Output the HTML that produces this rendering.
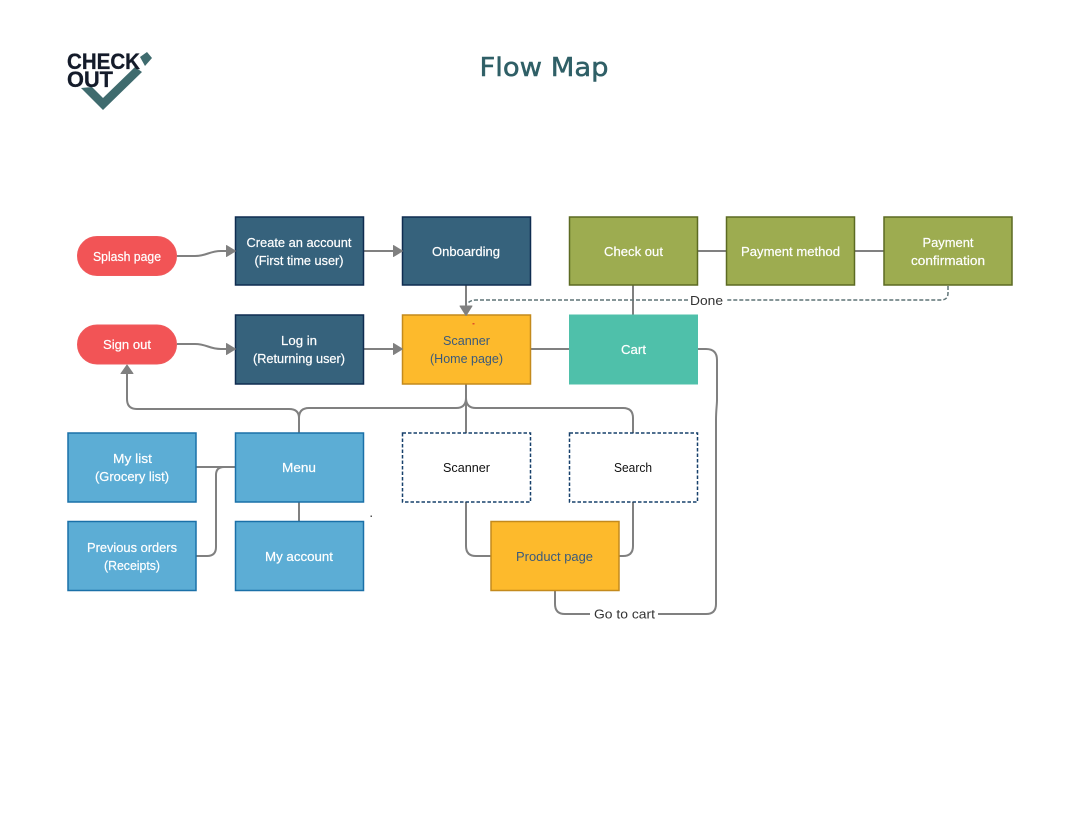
<!DOCTYPE html>
<html><head><meta charset="utf-8"><style>
html,body{margin:0;padding:0;background:#fff}
svg{display:block}
text{font-family:"Liberation Sans",sans-serif;font-size:13px;text-anchor:middle}
.w text{fill:#fff;stroke:#fff;stroke-width:.2px}
.d text{fill:#3a5a7c}.k text{fill:#111}.l text{fill:#333}
.c{fill:none;stroke:#808080;stroke-width:2}
.a{fill:#808080;stroke:#808080;stroke-width:1;stroke-linejoin:round}
</style></head><body>
<svg width="1080" height="835" viewBox="0 0 1080 835" xmlns="http://www.w3.org/2000/svg">
<rect width="1080" height="835" fill="#fff"/>
<!-- logo -->
<polygon points="81,88 92,87 103,98 135,67 142,72 103,110" fill="#3f6b6e"/>
<polygon points="140,57 147,52 152,58 145,66" fill="#3f6b6e"/>
<text x="67" y="69" style="font-family:'Liberation Sans';font-weight:700;font-size:22px;text-anchor:start;fill:#141b2a;stroke:#141b2a;stroke-width:.3" textLength="73" lengthAdjust="spacingAndGlyphs">CHECK</text>
<text x="67" y="87" style="font-family:'Liberation Sans';font-weight:700;font-size:22px;text-anchor:start;fill:#141b2a;stroke:#141b2a;stroke-width:.3" textLength="46" lengthAdjust="spacingAndGlyphs">OUT</text>
<text x="544" y="76" style="font-family:'DejaVu Sans';font-size:26px;fill:#2f5f66;stroke:#2f5f66;stroke-width:.5" textLength="129" lengthAdjust="spacingAndGlyphs">Flow Map</text>
<!-- connectors -->
<path class="c" d="M177 256H195C207 256 209 251 221 251H226"/>
<path class="c" d="M177 344H195C207 344 209 349 221 349H226"/>
<path class="c" d="M363 251H393"/>
<path class="c" d="M363 349H393"/>
<path class="c" d="M466 285V306"/>
<path class="c" d="M697 251H726M855 251H884"/>
<path class="c" d="M633 285V315"/>
<path class="c" d="M530 349H569"/>
<path d="M948 286V293Q948 300 941 300H727M688 300H476Q470 300 467 304" fill="none" stroke="#5f7477" stroke-width="1.5" stroke-dasharray="4 2"/>
<path class="c" d="M466 384V433"/>
<path class="c" d="M466 398Q466 408 456 408H309Q299 408 299 418V433"/>
<path class="c" d="M299 418Q299 409 289 409H137Q127 409 127 399V372"/>
<path class="c" d="M466 398Q466 408 476 408H623Q633 408 633 418V433"/>
<path class="c" d="M196 467H235"/>
<path class="c" d="M235 467H224Q216 467 216 475V547Q216 556 207 556H196"/>
<path class="c" d="M299 502V521"/>
<path class="c" d="M466 502V546Q466 556 476 556H491"/>
<path class="c" d="M633 502V546Q633 556 623 556H619"/>
<path class="c" d="M555 590V604Q555 614 565 614H590M658 614H706Q716 614 716 604V420C716 410 717 405 717 400V360Q717 349 706 349H697"/>
<!-- boxes -->
<rect x="77.500" y="236.500" width="99" height="39" rx="19.500" fill="#f25456" stroke="#ef5a5c"/>
<rect x="77.500" y="325" width="99" height="39" rx="19.500" fill="#f25456" stroke="#ef5a5c"/>
<g fill="#36627c" stroke="#0f2c50" stroke-width="1.500">
<rect x="235.500" y="217" width="128" height="68"/>
<rect x="402.500" y="217" width="128" height="68"/>
<rect x="235.500" y="315" width="128" height="69"/>
</g>
<g fill="#9dac50" stroke="#5c6a22" stroke-width="1.500">
<rect x="569.500" y="217" width="128" height="68"/>
<rect x="726.500" y="217" width="128" height="68"/>
<rect x="884" y="217" width="128" height="68"/>
</g>
<g fill="#fdba2c" stroke="#c48a1c" stroke-width="1.500">
<rect x="402.500" y="315" width="128" height="69"/>
<rect x="491" y="521.500" width="128" height="69"/>
</g>
<rect x="569" y="314.500" width="129" height="70" fill="#4fc0aa"/>
<g fill="#5cadd5" stroke="#1a70a8" stroke-width="1.500">
<rect x="68" y="433" width="128" height="69"/>
<rect x="235.500" y="433" width="128" height="69"/>
<rect x="68" y="521.500" width="128" height="69"/>
<rect x="235.500" y="521.500" width="128" height="69"/>
</g>
<g fill="#fff" stroke="#17406b" stroke-width="1.500" stroke-dasharray="3.500 2">
<rect x="402.500" y="433" width="128" height="69"/>
<rect x="569.500" y="433" width="128" height="69"/>
</g>
<rect x="472.500" y="323" width="2" height="1.500" fill="#e0502a"/>
<rect x="370.500" y="515.500" width="1.500" height="1.500" fill="#555"/>
<!-- arrowheads -->
<polygon class="a" points="226.500,245.500 235.500,251 226.500,256.500"/>
<polygon class="a" points="393.500,245.500 402.500,251 393.500,256.500"/>
<polygon class="a" points="226.500,343.500 235.500,349 226.500,354.500"/>
<polygon class="a" points="393.500,343.500 402.500,349 393.500,354.500"/>
<polygon class="a" points="460,306 472,306 466,315.500"/>
<polygon class="a" points="121,373.500 133,373.500 127,365"/>
<!-- labels -->
<g class="w">
<text x="127" y="261" textLength="68" lengthAdjust="spacingAndGlyphs">Splash page</text>
<text x="127" y="349" textLength="48" lengthAdjust="spacingAndGlyphs">Sign out</text>
<text x="299" y="247" textLength="105" lengthAdjust="spacingAndGlyphs">Create an account</text>
<text x="299" y="265" textLength="89" lengthAdjust="spacingAndGlyphs">(First time user)</text>
<text x="466" y="256" textLength="68" lengthAdjust="spacingAndGlyphs">Onboarding</text>
<text x="299" y="345" textLength="36" lengthAdjust="spacingAndGlyphs">Log in</text>
<text x="299" y="363" textLength="92" lengthAdjust="spacingAndGlyphs">(Returning user)</text>
<text x="633.500" y="256" textLength="59" lengthAdjust="spacingAndGlyphs">Check out</text>
<text x="790.500" y="256" textLength="99" lengthAdjust="spacingAndGlyphs">Payment method</text>
<text x="948" y="247" textLength="51" lengthAdjust="spacingAndGlyphs">Payment</text>
<text x="948" y="265" textLength="74" lengthAdjust="spacingAndGlyphs">confirmation</text>
<text x="633.500" y="354" textLength="25" lengthAdjust="spacingAndGlyphs">Cart</text>
<text x="132.500" y="463" textLength="39" lengthAdjust="spacingAndGlyphs">My list</text>
<text x="132" y="481" textLength="74" lengthAdjust="spacingAndGlyphs">(Grocery list)</text>
<text x="299" y="472" textLength="34" lengthAdjust="spacingAndGlyphs">Menu</text>
<text x="132" y="552" textLength="90" lengthAdjust="spacingAndGlyphs">Previous orders</text>
<text x="132" y="570" textLength="56" lengthAdjust="spacingAndGlyphs">(Receipts)</text>
<text x="299" y="561" textLength="68" lengthAdjust="spacingAndGlyphs">My account</text>
</g>
<g class="d">
<text x="466.500" y="345" textLength="47" lengthAdjust="spacingAndGlyphs">Scanner</text>
<text x="466.500" y="363" textLength="73" lengthAdjust="spacingAndGlyphs">(Home page)</text>
<text x="554.500" y="561" textLength="77" lengthAdjust="spacingAndGlyphs">Product page</text>
</g>
<g class="k">
<text x="466.500" y="472" textLength="47" lengthAdjust="spacingAndGlyphs">Scanner</text>
<text x="633" y="472" textLength="38" lengthAdjust="spacingAndGlyphs">Search</text>
</g>
<g class="l">
<text x="706.500" y="305" textLength="33" lengthAdjust="spacingAndGlyphs">Done</text>
<text x="624.500" y="618.500" textLength="61" lengthAdjust="spacingAndGlyphs">Go to cart</text>
</g>
</svg>
</body></html>
